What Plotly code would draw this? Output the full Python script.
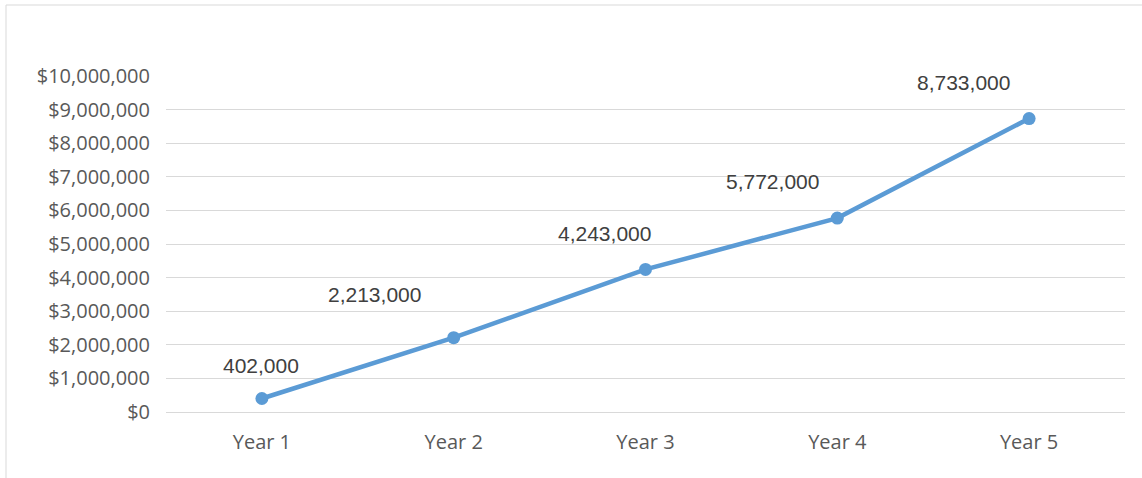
import plotly.graph_objects as go

categories = ["Year 1", "Year 2", "Year 3", "Year 4", "Year 5"]
values = [402000, 2213000, 4243000, 5772000, 8733000]
y_tick_values = [0, 1000000, 2000000, 3000000, 4000000, 5000000,
                 6000000, 7000000, 8000000, 9000000, 10000000]
y_tick_labels = ["$0", "$1,000,000", "$2,000,000", "$3,000,000", "$4,000,000",
                 "$5,000,000", "$6,000,000", "$7,000,000", "$8,000,000",
                 "$9,000,000", "$10,000,000"]

# manual label placement (pixel offsets from each point)
label_dx = [-1, -79, -41, -65, -66]
label_dy = [33, 43, 36, 37, 36]

W, H = 1142, 478
L, R, T, B = 166, 17, 76, 66
FONT = "Open Sans"
LABEL_FONT = "Liberation Sans"
GREY = "#595959"
BLUE = "#5B9BD5"

fig = go.Figure()
fig.add_trace(go.Scatter(
    x=categories, y=values, mode="lines+markers",
    line=dict(color=BLUE, width=4.5),
    marker=dict(color=BLUE, size=13),
    showlegend=False, hoverinfo="skip",
))

for c, v, dx, dy in zip(categories, values, label_dx, label_dy):
    fig.add_annotation(x=c, y=v, text=f"{v:,}", showarrow=False,
                       xshift=dx, yshift=dy,
                       font=dict(family=LABEL_FONT, size=21, color="#404040"))

pw = W - L - R
ph = H - T - B
def px_x(p):
    return (p - L) / pw
def px_y(p):
    return 1 - (p - T) / ph

fig.add_shape(type="line", xref="paper", yref="paper",
              x0=px_x(6), x1=px_x(W + 5), y0=px_y(5), y1=px_y(5),
              line=dict(color="#d9d9d9", width=1))
fig.add_shape(type="line", xref="paper", yref="paper",
              x0=px_x(6), x1=px_x(6), y0=px_y(5), y1=px_y(H + 5),
              line=dict(color="#d9d9d9", width=1))

fig.update_layout(
    width=W, height=H,
    margin=dict(l=L, r=R, t=T, b=B),
    paper_bgcolor="white", plot_bgcolor="white",
    font=dict(family=FONT, size=20, color=GREY),
    xaxis=dict(type="category", range=[-0.5, 4.5], showgrid=False,
               showline=False, zeroline=False, ticks="",
               ticklabelstandoff=16,
               tickfont=dict(family=FONT, size=20, color=GREY)),
    yaxis=dict(range=[0, 10000000], tickvals=y_tick_values,
               ticktext=y_tick_labels, showgrid=True,
               gridcolor="#d9d9d9", gridwidth=1, zeroline=True,
               zerolinecolor="#d9d9d9", zerolinewidth=1, showline=False,
               ticks="", ticklabelstandoff=15,
               tickfont=dict(family=FONT, size=20, color=GREY)),
)

fig.write_html("out.html")
